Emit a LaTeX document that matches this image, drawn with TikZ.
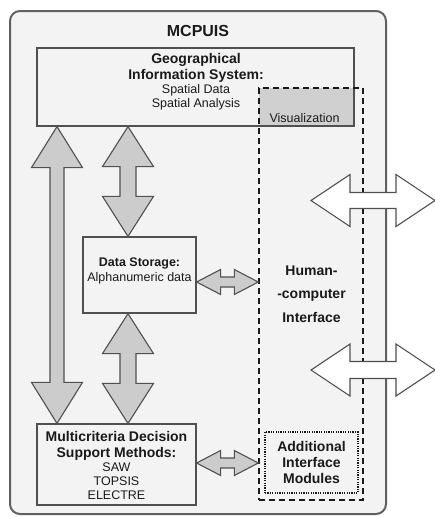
\documentclass[tikz,border=0pt]{standalone}
\usepackage{fontspec}
\setmainfont{Liberation Sans}
\usetikzlibrary{calc}

\definecolor{panel}{HTML}{F3F3F3}
\definecolor{edge}{HTML}{505050}
\definecolor{frame}{HTML}{606060}
\definecolor{arrowgray}{HTML}{CCCCCC}
\definecolor{vizgray}{HTML}{D0D0D0}
\definecolor{ink}{HTML}{1A1A1A}

% vertical double block arrow: style, top tip, bottom tip, half shaft, half head, head length
\newcommand\vdouble[6]{%
  \draw[#1] let \p1=#2, \p2=#3 in
    (\x1,\y1) -- (\x1+#5,\y1-#6) -- (\x1+#4,\y1-#6) -- (\x1+#4,\y2+#6)
    -- (\x1+#5,\y2+#6) -- (\x1,\y2) -- (\x1-#5,\y2+#6) -- (\x1-#4,\y2+#6)
    -- (\x1-#4,\y1-#6) -- (\x1-#5,\y1-#6) -- cycle;}

% horizontal double block arrow: style, left tip, right tip, half shaft, half head, head length
\newcommand\hdouble[6]{%
  \draw[#1] let \p1=#2, \p2=#3 in
    (\x1,\y1) -- (\x1+#6,\y1+#5) -- (\x1+#6,\y1+#4) -- (\x2-#6,\y1+#4)
    -- (\x2-#6,\y1+#5) -- (\x2,\y1) -- (\x2-#6,\y1-#5) -- (\x2-#6,\y1-#4)
    -- (\x1+#6,\y1-#4) -- (\x1+#6,\y1-#5) -- cycle;}

\tikzset{
  block/.style={draw=edge, line width=1.2pt, inner sep=0pt, minimum width=#1},
  panelbox/.style={draw=frame, fill=panel, line width=2pt, rounded corners=10pt, inner sep=0pt},
  hcibox/.style={draw=ink, line width=1.4pt, dash pattern=on 6pt off 4pt, inner sep=0pt},
  modbox/.style={draw=ink, line width=1.1pt, dash pattern=on 1.2pt off 1.2pt, inner sep=0pt},
  grayarrow/.style={draw=edge, fill=arrowgray, line width=1.1pt, line join=miter},
  whitearrow/.style={draw=edge, fill=white, line width=1.1pt, line join=miter},
  txt/.style={inner sep=0pt, anchor=base, text=ink},
  title/.style={txt, font=\fontsize{16}{18}\selectfont\bfseries},
  head/.style={txt, font=\fontsize{14}{16}\selectfont\bfseries},
  sub/.style={txt, font=\fontsize{12.5}{14}\selectfont\bfseries},
  plain/.style={txt, font=\fontsize{12.5}{14}\selectfont},
}

\begin{document}
\begin{tikzpicture}[x=1pt, y=-1pt]
\useasboundingbox (0,0) rectangle (435,517);

% outer system frame
\node[panelbox, minimum width=376pt, minimum height=503pt] (mcpuis) at (198,262.5) {};
\node[title] (mcpuistitle) at (198,36) {MCPUIS};

% GIS with its visualization corner
\node[fill=vizgray, inner sep=0pt, minimum width=95pt, minimum height=38pt] (viz) at (306.5,107) {};
\node[block=317pt, minimum height=78pt] (gis) at (195.5,87) {};
\node[head] (gis1) at (196,63) {Geographical};
\node[head] (gis2) at (196,79) {Information System:};
\node[plain] (gis3) at (196,93.5) {Spatial Data};
\node[plain] (gis4) at (196,107.5) {Spatial Analysis};
\node[plain] (viztext) at (304.5,122) {Visualization};

% data storage
\node[block=113pt, minimum height=76pt] (ds) at (139.5,275) {};
\node[sub] (ds1) at (139.5,266) {Data Storage:};
\node[plain] (ds2) at (139.5,281) {Alphanumeric data};

% decision support methods
\node[block=159pt, minimum height=81pt] (mcdm) at (116.5,464.5) {};
\node[head] (mc1) at (116.5,441) {Multicriteria Decision};
\node[head] (mc2) at (116.5,457) {Support Methods:};
\node[plain] (mc3) at (116.5,471) {SAW};
\node[plain] (mc4) at (116.5,485.5) {TOPSIS};
\node[plain] (mc5) at (116.5,499.5) {ELECTRE};

% human-computer interface
\node[hcibox, minimum width=104pt, minimum height=412pt] (hci) at (311,294) {};
\node[head] (hci1) at (311.5,275) {Human-};
\node[head] (hci2) at (311.5,298) {-computer};
\node[head] (hci3) at (311.5,322.5) {Interface};

\node[modbox, minimum width=93pt, minimum height=61pt] (mods) at (311.5,462.5) {};
\node[head] (mod1) at (311.5,451.5) {Additional};
\node[head] (mod2) at (311.5,467.5) {Interface};
\node[head] (mod3) at (311.5,483.5) {Modules};

% columns and rows for the connectors
\coordinate (colA) at (57,0);
\coordinate (colB) at (128,0);
\coordinate (rowDS) at (0,282);
\coordinate (rowMC) at (0,463);
\coordinate (outA) at (435,200.5);
\coordinate (outB) at (435,370);

% gray connectors
\vdouble{grayarrow}{(gis.south -| colA)}{(mcdm.north -| colA)}{7pt}{25.5pt}{41pt}
\vdouble{grayarrow}{(gis.south -| colB)}{(ds.north -| colB)}{8pt}{25.5pt}{40pt}
\vdouble{grayarrow}{(ds.south -| colB)}{(mcdm.north -| colB)}{8pt}{25.5pt}{40pt}
\hdouble{grayarrow}{(ds.east |- rowDS)}{(hci.west |- rowDS)}{5pt}{12.5pt}{24pt}
\hdouble{grayarrow}{(mcdm.east |- rowMC)}{(hci.west |- rowMC)}{5pt}{12.5pt}{24pt}

% links leaving the system
\hdouble{whitearrow}{(hci.center |- outA)}{(outA)}{8pt}{26pt}{39pt}
\hdouble{whitearrow}{(hci.center |- outB)}{(outB)}{8.5pt}{26pt}{39pt}
\end{tikzpicture}
\end{document}
